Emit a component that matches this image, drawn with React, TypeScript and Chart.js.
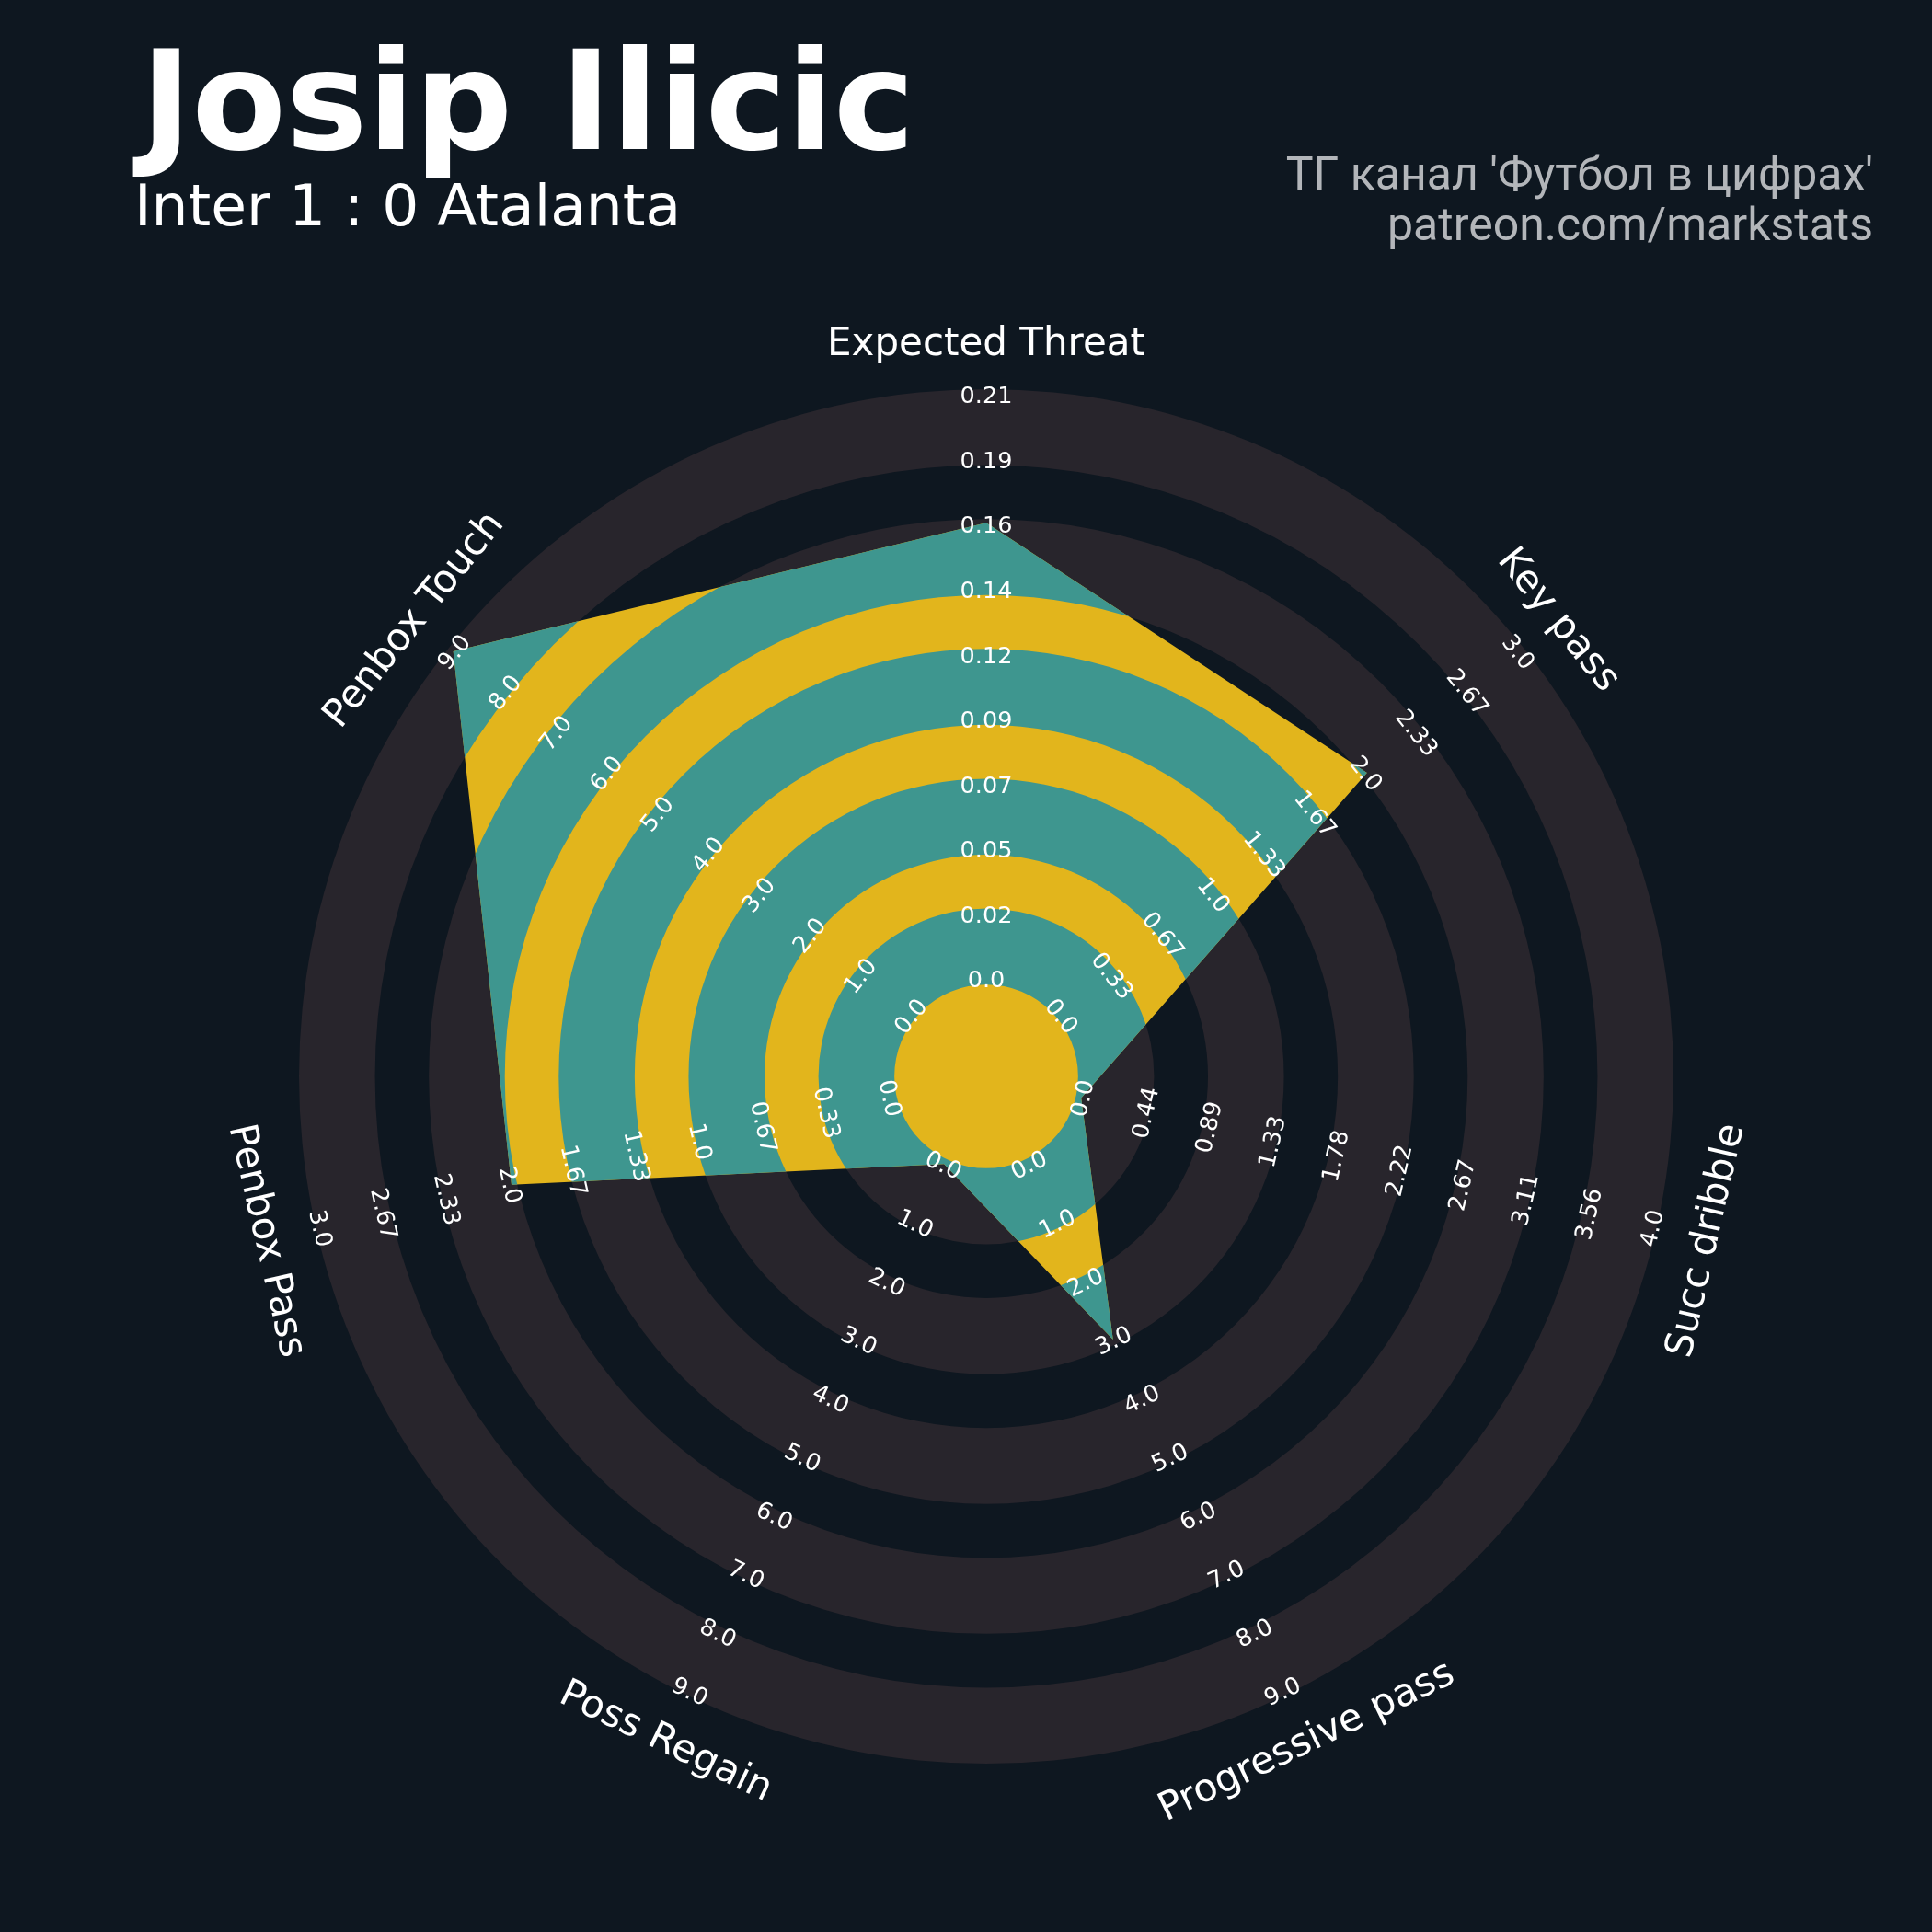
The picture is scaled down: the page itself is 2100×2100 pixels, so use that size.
import React, { useEffect, useRef } from 'react';
import { Chart, registerables } from 'chart.js';

Chart.register(...registerables);

// ---------------- data ----------------
const PARAMS = ['Expected Threat', 'Key pass', 'Succ dribble', 'Progressive pass', 'Poss Regain', 'Penbox Pass', 'Penbox Touch'];
const MIN_RANGE = [0, 0, 0, 0, 0, 0, 0];
const MAX_RANGE = [0.21, 3, 4, 9, 9, 3, 9];
const VALUES = [0.164, 2, 0, 3, 0, 2, 9];

const TICKS_XT = ['0.0', '0.02', '0.05', '0.07', '0.09', '0.12', '0.14', '0.16', '0.19', '0.21'];
const TICKS_KEY_PASS = ['0.0', '0.33', '0.67', '1.0', '1.33', '1.67', '2.0', '2.33', '2.67', '3.0'];
const TICKS_DRIBBLE = ['0.0', '0.44', '0.89', '1.33', '1.78', '2.22', '2.67', '3.11', '3.56', '4.0'];
const TICKS_PROG_PASS = ['0.0', '1.0', '2.0', '3.0', '4.0', '5.0', '6.0', '7.0', '8.0', '9.0'];
const TICKS_POSS_REGAIN = ['0.0', '1.0', '2.0', '3.0', '4.0', '5.0', '6.0', '7.0', '8.0', '9.0'];
const TICKS_PENBOX_PASS = ['0.0', '0.33', '0.67', '1.0', '1.33', '1.67', '2.0', '2.33', '2.67', '3.0'];
const TICKS_PENBOX_TOUCH = ['0.0', '1.0', '2.0', '3.0', '4.0', '5.0', '6.0', '7.0', '8.0', '9.0'];
const RANGE_LABELS = [TICKS_XT, TICKS_KEY_PASS, TICKS_DRIBBLE, TICKS_PROG_PASS, TICKS_POSS_REGAIN, TICKS_PENBOX_PASS, TICKS_PENBOX_TOUCH];

const TITLE = 'Josip Ilicic';
const SUBTITLE = 'Inter 1 : 0 Atalanta';
const CREDIT_1 = "ТГ канал 'Футбол в цифрах'";
const CREDIT_2 = 'patreon.com/markstats';

// ring geometry (in ring units)
const NUM_RINGS = 9;
const CENTER_RADIUS = 1.5;
const RING_EXPAND = 0.085;

// ---------------- style ----------------
const BG = '#0e1720';
const RING_GRAY = '#28252c';
const TEAL = '#3e968f';
const YELLOW = '#e2b51c';
const TEXT = '#ffffff';
const CREDIT_COLOR = '#b3b6ba';

function annulus(ctx: CanvasRenderingContext2D, x: number, y: number, r0: number, r1: number, color: string) {
  ctx.beginPath();
  ctx.arc(x, y, r1, 0, Math.PI * 2, false);
  ctx.moveTo(x + r0, y);
  ctx.arc(x, y, r0, 0, Math.PI * 2, true);
  ctx.closePath();
  ctx.fillStyle = color;
  ctx.fill('nonzero');
}

function rotatedText(ctx: CanvasRenderingContext2D, text: string, x: number, y: number, rot: number, size: number) {
  ctx.save();
  ctx.translate(x, y);
  ctx.rotate(rot);
  ctx.textAlign = 'center';
  ctx.textBaseline = 'alphabetic';
  ctx.fillText(text, 0, 0.365 * size);
  ctx.restore();
}

const decorPlugin = {
  id: 'radarDecor',
  beforeDraw(chart: any) {
    const ctx = chart.ctx as CanvasRenderingContext2D;
    ctx.save();
    ctx.fillStyle = BG;
    ctx.fillRect(0, 0, chart.width, chart.height);
    ctx.restore();
  },
  beforeDatasetsDraw(chart: any) {
    const ctx = chart.ctx as CanvasRenderingContext2D;
    const s = chart.scales.r;
    ctx.save();
    for (let k = 0; k < NUM_RINGS; k += 2) {
      const r0 = s.getDistanceFromCenterForValue(k - RING_EXPAND);
      const r1 = s.getDistanceFromCenterForValue(k + 1 + RING_EXPAND);
      annulus(ctx, s.xCenter, s.yCenter, r0, r1, RING_GRAY);
    }
    ctx.restore();
  },
  afterDatasetsDraw(chart: any) {
    const ctx = chart.ctx as CanvasRenderingContext2D;
    const s = chart.scales.r;
    const meta = chart.getDatasetMeta(0);
    // alternate rings clipped to the radar polygon
    ctx.save();
    ctx.beginPath();
    meta.data.forEach((p: any, i: number) => {
      if (i === 0) ctx.moveTo(p.x, p.y);
      else ctx.lineTo(p.x, p.y);
    });
    ctx.closePath();
    ctx.clip();
    for (let k = 0; k < NUM_RINGS; k += 2) {
      const r0 = s.getDistanceFromCenterForValue(k - RING_EXPAND);
      const r1 = s.getDistanceFromCenterForValue(k + 1 + RING_EXPAND);
      annulus(ctx, s.xCenter, s.yCenter, r0, r1, TEAL);
    }
    ctx.restore();

    // range labels + param labels
    const n = PARAMS.length;
    ctx.save();
    ctx.fillStyle = TEXT;
    for (let i = 0; i < n; i++) {
      const deg = (i * 360) / n;
      const top = deg <= 90 || deg >= 270;
      const rot = top ? (deg * Math.PI) / 180 : (deg * Math.PI) / 180 - Math.PI;
      const tickSize = 25.5;
      ctx.font = `${tickSize}px "DejaVu Sans"`;
      RANGE_LABELS[i].forEach((lab, k) => {
        const p = s.getPointPositionForValue(i, k);
        rotatedText(ctx, lab, p.x, p.y, rot, tickSize);
      });
      const labSize = 42;
      ctx.font = `${labSize}px "DejaVu Sans"`;
      const pp = s.getPointPosition(i, s.drawingArea + 58);
      rotatedText(ctx, PARAMS[i], pp.x, pp.y, rot, labSize);
    }
    ctx.restore();

    // titles
    ctx.save();
    ctx.fillStyle = TEXT;
    ctx.textAlign = 'left';
    ctx.textBaseline = 'alphabetic';
    ctx.font = 'bold 149px "DejaVu Sans"';
    ctx.fillText(TITLE, 153, 162);
    ctx.font = '63px "DejaVu Sans"';
    ctx.fillText(SUBTITLE, 146, 245);
    ctx.fillStyle = CREDIT_COLOR;
    ctx.textAlign = 'right';
    ctx.font = '50px Roboto';
    ctx.fillText(CREDIT_1, 2036, 206);
    ctx.fillText(CREDIT_2, 2036, 261);
    ctx.restore();
  },
};

export default function App() {
  const ref = useRef<HTMLCanvasElement | null>(null);
  useEffect(() => {
    const canvas = ref.current;
    if (!canvas) return;
    const normalized = VALUES.map((v, i) => ((v - MIN_RANGE[i]) / (MAX_RANGE[i] - MIN_RANGE[i])) * NUM_RINGS);
    const chart = new Chart(canvas, {
      type: 'radar',
      data: {
        labels: PARAMS,
        datasets: [
          {
            data: normalized,
            backgroundColor: YELLOW,
            borderColor: 'rgba(0,0,0,0)',
            borderWidth: 0,
            pointRadius: 0,
            pointHoverRadius: 0,
            pointHitRadius: 0,
            fill: 'start',
            tension: 0,
          },
        ],
      },
      options: {
        responsive: false,
        animation: false,
        devicePixelRatio: 1,
        layout: { padding: { left: 331, top: 429, right: 287, bottom: 189 } },
        plugins: {
          legend: { display: false },
          tooltip: { enabled: false },
          title: { display: false },
        },
        scales: {
          r: {
            min: -CENTER_RADIUS,
            max: NUM_RINGS,
            grid: { display: false },
            angleLines: { display: false },
            pointLabels: { display: false },
            ticks: { display: false },
          },
        },
      },
      plugins: [decorPlugin],
    } as any);
    return () => chart.destroy();
  }, []);
  return (
    <div style={{ position: 'absolute', left: 0, top: 0, width: 2100, height: 2100, background: BG }}>
      <canvas ref={ref} width={2100} height={2100} style={{ display: 'block' }} />
    </div>
  );
}
